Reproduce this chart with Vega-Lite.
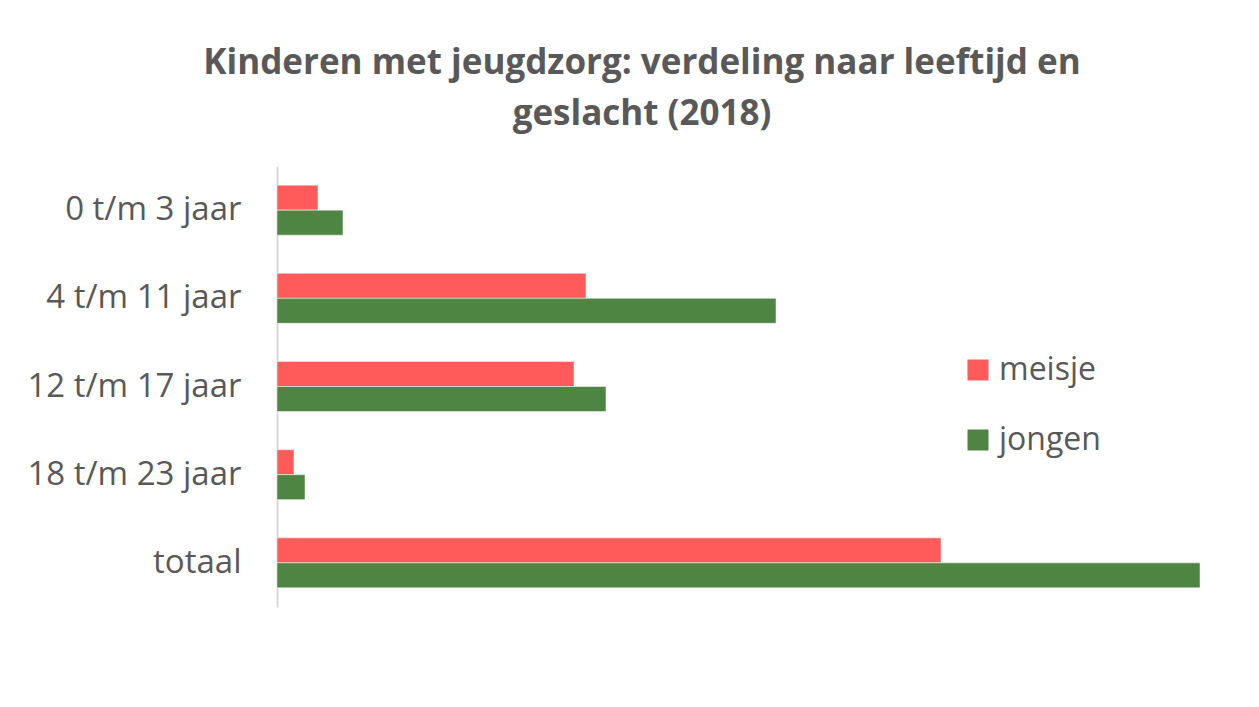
{
  "$schema": "https://vega.github.io/schema/vega-lite/v6.json",
  "autosize": "none",
  "padding": {"left": 277, "top": 166, "right": 42, "bottom": 100},
  "width": 940,
  "height": 441,
  "background": "white",
  "config": {"view": {"stroke": null}, "font": "Open Sans"},
  "title": {
    "text": ["Kinderen met jeugdzorg: verdeling naar leeftijd en", "geslacht (2018)"],
    "fontSize": 35,
    "fontWeight": "bold",
    "color": "#595959",
    "font": "Open Sans",
    "lineHeight": 51,
    "anchor": "middle",
    "frame": "group",
    "dx": -105,
    "offset": 34
  },
  "data": {
    "values": [
      {"leeftijd": "0 t/m 3 jaar", "geslacht": "meisje", "aantal": 41},
      {"leeftijd": "0 t/m 3 jaar", "geslacht": "jongen", "aantal": 66},
      {"leeftijd": "4 t/m 11 jaar", "geslacht": "meisje", "aantal": 309},
      {"leeftijd": "4 t/m 11 jaar", "geslacht": "jongen", "aantal": 499},
      {"leeftijd": "12 t/m 17 jaar", "geslacht": "meisje", "aantal": 297},
      {"leeftijd": "12 t/m 17 jaar", "geslacht": "jongen", "aantal": 329},
      {"leeftijd": "18 t/m 23 jaar", "geslacht": "meisje", "aantal": 17},
      {"leeftijd": "18 t/m 23 jaar", "geslacht": "jongen", "aantal": 28},
      {"leeftijd": "totaal", "geslacht": "meisje", "aantal": 664},
      {"leeftijd": "totaal", "geslacht": "jongen", "aantal": 923}
    ]
  },
  "mark": {"type": "bar", "stroke": "white", "strokeWidth": 0.5},
  "encoding": {
    "y": {
      "field": "leeftijd",
      "type": "nominal",
      "sort": ["0 t/m 3 jaar", "4 t/m 11 jaar", "12 t/m 17 jaar", "18 t/m 23 jaar", "totaal"],
      "scale": {"paddingInner": 0.433, "paddingOuter": 0.217},
      "axis": {
        "title": null,
        "ticks": false,
        "labelFontSize": 33,
        "labelColor": "#595959",
        "labelFont": "Open Sans",
        "labelPadding": 36,
        "labelLimit": 400,
        "domainColor": "#d9d9d9",
        "domainWidth": 2,
        "grid": false
      }
    },
    "yOffset": {
      "field": "geslacht",
      "type": "nominal",
      "sort": ["meisje", "jongen"],
      "scale": {"paddingInner": 0, "paddingOuter": 0}
    },
    "x": {
      "field": "aantal",
      "type": "quantitative",
      "scale": {"domain": [0, 940], "nice": false},
      "axis": null
    },
    "color": {
      "field": "geslacht",
      "type": "nominal",
      "sort": ["meisje", "jongen"],
      "scale": {"domain": ["meisje", "jongen"], "range": ["#FF5B5B", "#4E8542"]},
      "legend": {
        "title": null,
        "orient": "none",
        "legendX": 685,
        "legendY": 188,
        "symbolType": "square",
        "symbolSize": 441,
        "symbolStrokeWidth": 0,
        "labelFontSize": 32,
        "labelColor": "#595959",
        "labelFont": "Open Sans",
        "labelOffset": 5,
        "rowPadding": 38
      }
    }
  }
}
